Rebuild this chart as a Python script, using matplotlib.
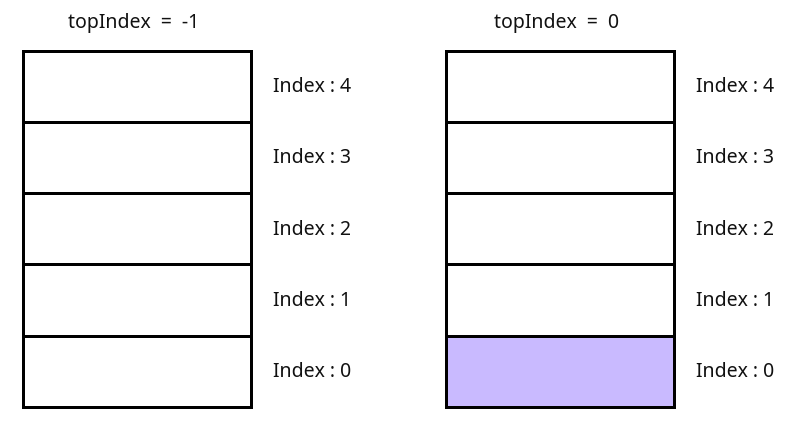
import matplotlib
matplotlib.use("Agg")
import matplotlib.pyplot as plt
from matplotlib.patches import Rectangle

# Data
titles = ["topIndex  =  -1", "topIndex  =  0"]
filled_counts = [0, 1]          # number of filled slots in each stack
slot_indices = [0, 1, 2, 3, 4]  # stack slot indices (bottom to top)
slot_labels = [f"Index : {i}" for i in slot_indices]

# Layout (pixels)
W, H = 804, 422
stack_x0 = [23.5, 446.5]
stack_w = 227.5
stack_top, stack_bottom = 50.5, 407.0
label_dx = 22
title_y = 23
title_dx = -4
fill_color = "#c9baff"
lw_px = 3.0

fig = plt.figure(figsize=(W / 100, H / 100), dpi=100)
ax = fig.add_axes([0, 0, 1, 1])
ax.set_xlim(0, W)
ax.set_ylim(H, 0)
ax.axis("off")

n = len(slot_indices)
cell_h = (stack_bottom - stack_top) / n
lw = lw_px * 72 / 100
font = ["Noto Sans", "DejaVu Sans"]

for s, x0 in enumerate(stack_x0):
    for k, idx in enumerate(slot_indices):
        y_top = stack_bottom - (k + 1) * cell_h
        face = fill_color if k < filled_counts[s] else "white"
        ax.add_patch(Rectangle((x0, y_top), stack_w, cell_h, facecolor=face,
                               edgecolor="black", linewidth=lw, joinstyle="miter"))
        ax.text(x0 + stack_w + label_dx, y_top + cell_h / 2 + 1, slot_labels[k],
                ha="left", va="center", fontsize=14, family=font, color="#111111")
    ax.text(x0 + stack_w / 2 + title_dx, title_y, titles[s], ha="center", va="center",
            fontsize=14, family=font, color="#111111")

fig.savefig("out.png", dpi=100)
